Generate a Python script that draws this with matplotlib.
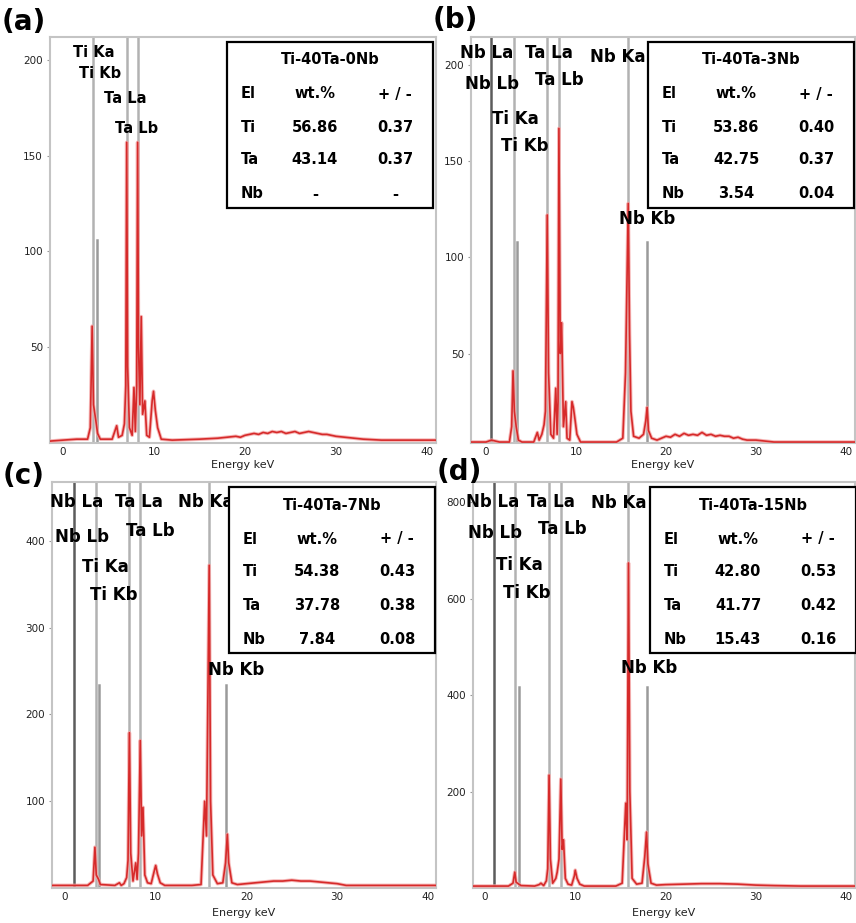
import numpy as np
import matplotlib.pyplot as plt
from matplotlib.patches import Rectangle

W, H = 856, 923

# ---- spectra (energy keV, counts) ----
energy_a = [-1.4, 0, 1.5, 2.7, 3.0, 3.2, 3.35, 3.6, 3.8, 4.1, 5.4, 5.9, 6.1, 6.5, 6.75, 6.9, 7.0, 7.1,
            7.3, 7.6, 7.8, 7.95, 8.1, 8.2, 8.3, 8.45, 8.6, 8.75, 9.0, 9.2, 9.5, 9.8, 9.95, 10.15, 10.4,
            10.8, 12, 15, 17, 18, 19, 19.5, 20, 20.5, 21, 21.5, 22, 22.5, 23, 23.5, 24, 24.5, 25, 25.5,
            26, 26.5, 27, 27.5, 28, 28.5, 29, 29.5, 30, 31, 32, 33, 35, 38, 41]
counts_a = [1, 1.5, 2, 2, 8, 61, 20, 12, 5, 2, 2, 9, 3, 4, 10, 30, 157, 40,
            8, 4, 29, 6, 30, 157, 50, 20, 66, 15, 22, 4, 3, 22, 27, 17, 8,
            2, 1.5, 2, 2.5, 3, 3.5, 3, 4, 4.5, 5, 4.5, 5.5, 5, 6, 5.5, 6, 5, 5.5, 6,
            5, 5.5, 6, 5.5, 5, 4.5, 4.5, 4, 3.5, 3, 2.5, 2, 1.5, 1.5, 1.5]

energy_b = [-1.7, 0, 0.6, 1.5, 2.6, 2.85, 3.0, 3.15, 3.35, 3.6, 4.0, 5.3, 5.7, 5.9, 6.2, 6.45, 6.6, 6.8,
            6.95, 7.2, 7.5, 7.75, 7.9, 8.0, 8.1, 8.25, 8.4, 8.6, 8.85, 9.0, 9.3, 9.55, 9.7, 9.85, 10.1,
            10.5, 12, 14.5, 15.2, 15.5, 15.8, 15.95, 16.1, 16.4, 17.0, 17.5, 17.75, 17.9, 18.05, 18.4,
            19, 19.5, 20, 20.5, 21, 21.5, 22, 22.5, 23, 23.5, 24, 24.5, 25, 25.5, 26, 26.5, 27, 27.5,
            28, 28.5, 29, 30, 31, 32, 34, 38, 41.2]
counts_b = [4, 4, 5, 4, 4, 12, 41, 20, 12, 5, 4, 4, 9, 5, 8, 13, 20, 122,
            40, 8, 6, 32, 8, 25, 167, 50, 66, 12, 25, 6, 5, 25, 22, 17, 8,
            4, 4, 4, 6, 40, 128, 60, 20, 7, 6, 8, 15, 22, 10, 6,
            5, 6, 7, 6.5, 8, 7, 8.5, 7.5, 8, 7.5, 9, 7.5, 8, 7, 7.5, 7, 7, 6,
            6.5, 5.5, 5, 5, 4.5, 4, 4, 4, 4]

energy_c = [-1.5, 0, 1, 2.5, 3.1, 3.3, 3.45, 3.7, 3.9, 5.5, 6.0, 6.2, 6.5, 6.8, 6.95, 7.1, 7.25, 7.5,
            7.8, 7.95, 8.1, 8.3, 8.45, 8.6, 8.8, 9.1, 9.5, 9.85, 10.0, 10.2, 10.5, 11, 14, 15.0, 15.4,
            15.6, 15.9, 16.05, 16.3, 16.8, 17.4, 17.7, 17.9, 18.05, 18.4, 19, 20, 21, 22, 23, 24, 25,
            26, 27, 28, 29, 30, 31, 35, 40.9]
counts_c = [3, 3, 3, 3, 8, 47, 15, 10, 4, 3, 6, 3, 5, 12, 32, 179, 40, 8,
            29, 10, 40, 170, 60, 93, 15, 6, 5, 20, 26, 16, 6, 3, 3, 4, 100,
            60, 372, 100, 15, 5, 6, 29, 62, 29, 6, 4, 5, 6, 7, 8, 8, 9,
            8, 8, 7, 6, 5, 3, 3, 3]

energy_d = [-1.3, 0, 1, 2.6, 3.1, 3.3, 3.45, 3.75, 4, 5.5, 6.0, 6.2, 6.5, 6.8, 6.95, 7.1, 7.25, 7.5,
            7.85, 8.0, 8.2, 8.4, 8.55, 8.7, 8.9, 9.2, 9.6, 9.9, 10.0, 10.2, 10.5, 11, 14.5, 15.2, 15.6,
            15.75, 15.9, 16.05, 16.3, 16.8, 17.4, 17.7, 17.9, 18.05, 18.4, 19, 20, 22, 24, 26, 28, 30,
            32, 35, 41]
counts_d = [4, 4, 4, 4, 10, 33, 12, 8, 5, 4, 7, 10, 5, 15, 40, 234, 60, 10,
            20, 33, 60, 226, 80, 100, 20, 8, 6, 25, 37, 20, 8, 4, 4, 10, 176,
            100, 674, 200, 20, 8, 10, 64, 116, 50, 10, 6, 7, 8, 9, 9, 8, 6,
            5, 4, 4]

# ---- element marker lines (keV, height; None = full height) ----
lines_a = [3.3, 3.7, 7.0, 8.2]
tops_a = [None, 106, None, None]
lines_b = [0.6, 3.1, 3.4, 6.8, 8.1, 15.8, 17.9]
tops_b = [None, None, 108, None, None, None, 108]
lines_c = [1.0, 3.4, 3.7, 7.05, 8.3, 15.9, 17.8]
tops_c = [None, None, 234, None, None, None, 234]
lines_d = [1.0, 3.3, 3.8, 7.1, 8.4, 15.9, 17.9]
tops_d = [None, None, 417, None, None, None, 417]

# ---- peak labels ----
names_a = ['Ti Ka', 'Ti Kb', 'Ta La', 'Ta Lb']
lab_x_a = [1.1, 1.8, 4.5, 5.7]
lab_y_a = [204, 193, 180, 164]

names_bcd = ['Nb La', 'Ta La', 'Nb Ka', 'Nb Lb', 'Ta Lb', 'Ti Ka', 'Ti Kb', 'Nb Kb']
lab_x_b = [-2.9, 4.3, 11.6, -2.3, 5.4, 0.7, 1.7, 14.8]
lab_y_b = [206, 206, 204, 190, 192, 172, 158, 120]
lab_x_c = [-1.65, 5.5, 12.5, -1.1, 6.7, 1.9, 2.75, 15.8]
lab_y_c = [445, 445, 445, 405, 412, 370, 338, 251]
lab_x_d = [-2.1, 4.65, 11.7, -1.9, 5.9, 1.2, 2.0, 15.1]
lab_y_d = [801, 801, 799, 736, 745, 670, 612, 456]

# ---- composition tables ----
titles = ['Ti-40Ta-0Nb', 'Ti-40Ta-3Nb', 'Ti-40Ta-7Nb', 'Ti-40Ta-15Nb']
elements = ['Ti', 'Ta', 'Nb']
wt = [['56.86', '43.14', '-'], ['53.86', '42.75', '3.54'],
      ['54.38', '37.78', '7.84'], ['42.80', '41.77', '15.43']]
err = [['0.37', '0.37', '-'], ['0.40', '0.37', '0.04'],
       ['0.43', '0.38', '0.08'], ['0.53', '0.42', '0.16']]

letters = ['(a)', '(b)', '(c)', '(d)']
yticks = [[50, 100, 150, 200], [50, 100, 150, 200], [100, 200, 300, 400], [200, 400, 600, 800]]

# pixel boxes of the axes (left, top, right, bottom) and limits
boxes = [(50, 37, 436, 443), (471, 37, 855, 443), (52, 482, 436, 888), (473, 482, 855, 888)]
xlims = [(-1.43, 41.0), (-1.67, 41.0), (-1.43, 40.9), (-1.33, 41.0)]
ylims = [(0, 212), (3.5, 214.5), (0, 468), (0, 842)]
letter_pos = [(24, 22), (455, 20), (24, 476), (459, 472)]

spectra = [(energy_a, counts_a), (energy_b, counts_b), (energy_c, counts_c), (energy_d, counts_d)]
markers = [(lines_a, tops_a), (lines_b, tops_b), (lines_c, tops_c), (lines_d, tops_d)]
labels = [(names_a, lab_x_a, lab_y_a, 10.5), (names_bcd, lab_x_b, lab_y_b, 12),
          (names_bcd, lab_x_c, lab_y_c, 12), (names_bcd, lab_x_d, lab_y_d, 12)]

fig = plt.figure(figsize=(W / 100, H / 100), dpi=100)


def fx(x):
    return x / W


def fy(y):
    return 1 - y / H


for i in range(4):
    l, t, r, b = boxes[i]
    ax = fig.add_axes([fx(l), fy(b), (r - l) / W, (b - t) / H])
    ax.set_xlim(*xlims[i])
    ax.set_ylim(*ylims[i])

    # element lines
    le, tp = markers[i]
    for k, (e, top) in enumerate(zip(le, tp)):
        if top is None:
            c = '#5c5c5c' if (i > 0 and k == 0) else '#b2b2b2'
            ax.axvline(e, color=c, lw=1.8, zorder=2)
        else:
            ax.plot([e, e], [ylims[i][0], top], color='#9a9a9a', lw=1.8, zorder=2)

    e, c = spectra[i]
    ax.plot(e, c, color='#f4a6a6', lw=2.6, zorder=3, alpha=0.8)
    ax.plot(e, c, color='#d62a2a', lw=1.2, zorder=3)

    names, lx, ly, fs = labels[i]
    for s, x, y in zip(names, lx, ly):
        ax.text(x, y, s, fontsize=fs, fontweight='bold', ha='left', va='center',
                zorder=5, clip_on=False)

    for sp in ax.spines.values():
        sp.set_color('#c4c4c4')
        sp.set_linewidth(1.5)
    ax.set_xticks([0, 10, 20, 30, 40])
    ax.set_yticks(yticks[i])
    ax.tick_params(axis='x', length=0, pad=3, labelsize=7.5, labelcolor='#222222')
    ax.tick_params(axis='y', length=2, width=0.8, color='#999999', pad=3,
                   labelsize=7.5, labelcolor='#222222')
    ax.set_xlabel('Energy keV', fontsize=8, labelpad=2 if i < 2 else 4, color='#222222')

    # table box
    bx, by, bw, bh = l + 177, t + 5, 206, 166
    fig.add_artist(Rectangle((fx(bx), fy(by + bh)), bw / W, bh / H, transform=fig.transFigure,
                             facecolor='white', edgecolor='black', lw=1.6, zorder=8))
    kw = dict(fontsize=10.5, fontweight='bold', va='center', zorder=9)
    fig.text(fx(bx + 103), fy(by + 18), titles[i], ha='center', **kw)
    fig.text(fx(bx + 14), fy(by + 52), 'El', ha='left', **kw)
    fig.text(fx(bx + 88), fy(by + 52), 'wt.%', ha='center', **kw)
    fig.text(fx(bx + 168), fy(by + 52), '+ / -', ha='center', **kw)
    for r_, yy in enumerate([85, 118, 152]):
        fig.text(fx(bx + 14), fy(by + yy), elements[r_], ha='left', **kw)
        fig.text(fx(bx + 88), fy(by + yy), wt[i][r_], ha='center', **kw)
        fig.text(fx(bx + 168), fy(by + yy), err[i][r_], ha='center', **kw)

    px, py = letter_pos[i]
    fig.text(fx(px), fy(py), letters[i], fontsize=20, fontweight='bold', ha='center', va='center')

fig.savefig('out.png', dpi=100)
